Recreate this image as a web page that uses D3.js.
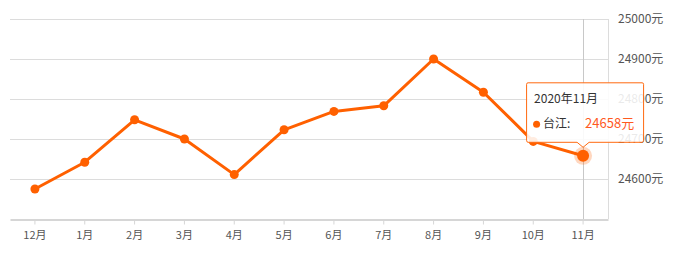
<!DOCTYPE html>
<html>
<head>
<meta charset="utf-8">
<script src="https://cdn.jsdelivr.net/npm/d3@7"></script>
<style>
  html, body { margin: 0; padding: 0; background: #fff; }
  body { font-family: "Microsoft YaHei", "Noto Sans CJK SC", sans-serif; }
</style>
</head>
<body>
<div id="chart"></div>
<script>
// 月份
const MONTHS = ["12月", "1月", "2月", "3月", "4月", "5月", "6月", "7月", "8月", "9月", "10月", "11月"];
// 均价 (元/㎡)
const PRICES = [24575, 24642, 24748, 24700, 24611, 24723, 24769, 24783, 24900, 24817, 24694, 24658];
const Y_TICKS = [24600, 24700, 24800, 24900, 25000];
const AREA_NAME = "台江";
const TIP_TITLE = "2020年11月";
const ACTIVE = 11;

const width = 680, height = 259;
const margin = { top: 19, right: 72, bottom: 40, left: 10 };
const COLOR = "#ff6000";

const svg = d3.select("#chart").append("svg")
  .attr("width", width)
  .attr("height", height);

const x = d3.scaleBand()
  .domain(MONTHS)
  .range([margin.left, width - margin.right]);

const y = d3.scaleLinear()
  .domain([24500, 25000])
  .range([height - margin.bottom, margin.top]);

const cx = d => x(d) + x.bandwidth() / 2;

// 网格线
svg.append("g")
  .selectAll("line")
  .data(Y_TICKS)
  .join("line")
  .attr("x1", margin.left)
  .attr("x2", width - margin.right)
  .attr("y1", d => Math.round(y(d)) + 0.5)
  .attr("y2", d => Math.round(y(d)) + 0.5)
  .attr("stroke", "#dcdcdc");

// 右侧边框
svg.append("line")
  .attr("x1", width - margin.right + 0.5)
  .attr("x2", width - margin.right + 0.5)
  .attr("y1", y(25000))
  .attr("y2", y(24500))
  .attr("stroke", "#dcdcdc");

// y 轴 (右侧)
const yAxis = d3.axisRight(y).tickValues(Y_TICKS).tickSize(0).tickPadding(10)
  .tickFormat(d => d + "元");
svg.append("g")
  .attr("transform", `translate(${width - margin.right}, 0)`)
  .call(yAxis)
  .call(g => g.select(".domain").remove())
  .selectAll("text")
  .attr("fill", "#555")
  .style("font-size", "12px")
  .style("font-family", "\"Noto Sans CJK SC\", sans-serif");

// x 轴
const xAxis = d3.axisBottom(x).tickSize(5).tickSizeOuter(0).tickPadding(7);
svg.append("g")
  .attr("transform", `translate(0, ${Math.round(y(24500)) + 0.5})`)
  .call(xAxis)
  .call(g => g.select(".domain").attr("stroke", "#d6d6d6").attr("stroke-width", 2))
  .call(g => g.selectAll(".tick line").attr("stroke", "#d6d6d6"))
  .selectAll("text")
  .attr("fill", "#555")
  .style("font-size", "11px")
  .style("font-family", "\"Noto Sans CJK SC\", sans-serif");

// 指示线
svg.append("line")
  .attr("x1", Math.round(cx(MONTHS[ACTIVE])) + 0.5)
  .attr("x2", Math.round(cx(MONTHS[ACTIVE])) + 0.5)
  .attr("y1", y(25000))
  .attr("y2", y(24500))
  .attr("stroke", "#c8c8c8");

// 折线
const line = d3.line()
  .x((d, i) => cx(MONTHS[i]))
  .y(d => y(d));

svg.append("path")
  .datum(PRICES)
  .attr("d", line)
  .attr("fill", "none")
  .attr("stroke", COLOR)
  .attr("stroke-width", 3)
  .attr("stroke-linejoin", "round");

svg.append("g")
  .selectAll("circle")
  .data(PRICES)
  .join("circle")
  .attr("cx", (d, i) => cx(MONTHS[i]))
  .attr("cy", d => y(d))
  .attr("r", 4.5)
  .attr("fill", COLOR);

// 高亮点
const ax = cx(MONTHS[ACTIVE]), ay = y(PRICES[ACTIVE]);
svg.append("circle")
  .attr("cx", ax).attr("cy", ay).attr("r", 9)
  .attr("fill", COLOR).attr("opacity", 0.25);
svg.append("circle")
  .attr("cx", ax).attr("cy", ay).attr("r", 6)
  .attr("fill", COLOR);

// 提示框
const tipW = 118, tipH = 60;
const tx = ax - 57, ty = ay - 73.5;
const tip = svg.append("g").attr("transform", `translate(${tx}, ${ty})`);
const arrowX = ax - tx;
tip.append("path")
  .attr("d", `M2,0.5 H${tipW - 2} Q${tipW - 0.5},0.5 ${tipW - 0.5},2 V${tipH - 2} Q${tipW - 0.5},${tipH} ${tipW - 2},${tipH}
    H${arrowX + 6} L${arrowX},${tipH + 5} L${arrowX - 6},${tipH} H2 Q0.5,${tipH} 0.5,${tipH - 2} V2 Q0.5,0.5 2,0.5 Z`)
  .attr("fill", "rgba(255,255,255,0.88)")
  .attr("stroke", "#ff6a10")
  .attr("stroke-width", 1);

tip.append("text")
  .attr("x", 8).attr("y", 21)
  .attr("fill", "#333")
  .style("font-size", "12px")
  .style("font-family", "\"Noto Sans CJK SC\", sans-serif")
  .text(TIP_TITLE);

tip.append("circle")
  .attr("cx", 10.5).attr("cy", 42).attr("r", 3.5)
  .attr("fill", COLOR);

tip.append("text")
  .attr("x", 17).attr("y", 46)
  .attr("fill", "#333")
  .style("font-size", "12px")
  .style("font-family", "\"Noto Sans CJK SC\", sans-serif")
  .text(AREA_NAME + ":");

tip.append("text")
  .attr("x", 59).attr("y", 46)
  .attr("fill", "#ff5a1f")
  .style("font-size", "13px")
  .style("font-family", "\"Noto Sans CJK SC\", sans-serif")
  .text(PRICES[ACTIVE] + "元");
</script>
</body>
</html>
